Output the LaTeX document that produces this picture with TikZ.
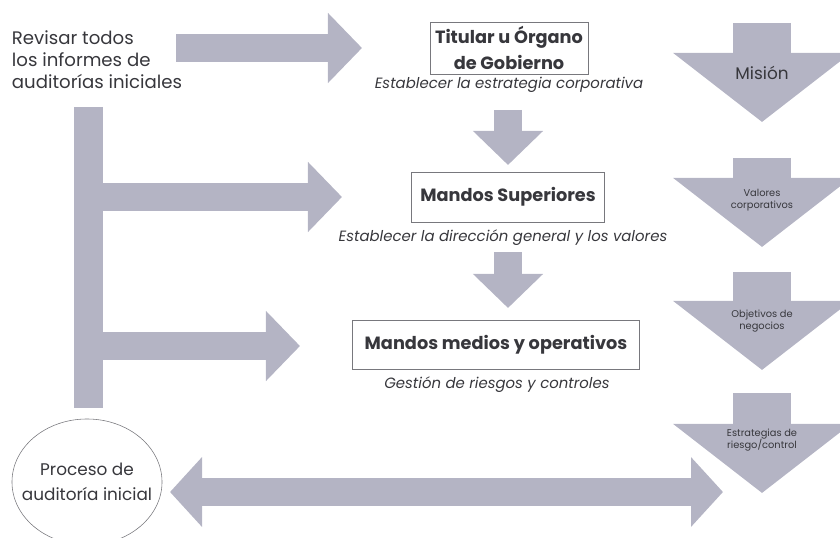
\documentclass[tikz,border=0pt]{standalone}
\usepackage{fontspec}
\setmainfont{Poppins}
\usetikzlibrary{positioning,arrows.meta,shapes.geometric}
\definecolor{arrowgray}{RGB}{180, 180, 196}
\definecolor{textgray}{RGB}{55, 55, 60}
\definecolor{boxgray}{RGB}{120, 120, 125}

\begin{document}
\begin{tikzpicture}[x=0.025cm, y=-0.025cm,
        every node/.style={text=textgray},
        level/.style={draw=boxgray, fill=white, align=center,
                    font=\fontsize{12.6}{18}\selectfont\bfseries},
        task/.style={font=\fontsize{10.6}{12}\selectfont\itshape},
        fatright/.style={arrowgray, line width=0.7125cm,
                    -{Triangle[length=0.85cm, width=1.7cm]}},
        fatboth/.style={arrowgray, line width=0.7cm,
                    {Triangle[length=0.8cm, width=1.7cm]}-{Triangle[length=0.8cm, width=1.7cm]}},
        fatdown/.style={arrowgray, line width=0.7cm,
                    -{Triangle[length=0.85cm, width=1.7cm]}},
        value/.style={arrowgray, line width=1.45cm,
                    -{Triangle[length=1.725cm, width=4.35cm]}},
        small/.style={align=center, font=\fontsize{7}{8.5}\selectfont}
    ]
    \useasboundingbox (0,0) rectangle (840,538);

    % Left column — review and audit process
    \node[align=left, anchor=west, font=\fontsize{12.9}{15.6}\selectfont] (revisar) at (7,60)
        {Revisar todos\\los informes de\\auditorías iniciales};
    \node[ellipse, draw=boxgray, minimum width=3.75cm, minimum height=3.15cm,
          inner sep=0pt] (proceso) at (87,482) {};
    \node[align=center, font=\fontsize{12}{17.7}\selectfont] (procesotxt) at (proceso.center)
        {Proceso de\\auditoría inicial};

    \coordinate (bartop) at (88.5,107);
    \coordinate (barbot) at (88.5,408);
    \coordinate (topstart) at (176,48);
    \coordinate (toptip) at (362,48);
    \coordinate (midtip) at (342,197);
    \coordinate (lowtip) at (300,346);
    \coordinate (retstart) at (170,492);
    \coordinate (rettip) at (723,492);

    % Middle column — levels
    \node[level, minimum width=3.95cm, minimum height=1.25cm] (titular) at (509,48)
        {Titular u Órgano\\de Gobierno};
    \node[task] (estrategia) at (509,85) {Establecer la estrategia corporativa};
    \node[level, minimum width=4.825cm, minimum height=1.25cm] (superiores) at (508,197)
        {Mandos Superiores};
    \node[task] (direccion) at (503,238) {Establecer la dirección general y los valores};
    \node[level, minimum width=7.175cm, minimum height=1.225cm] (medios) at (496,345)
        {Mandos medios y operativos};
    \node[task] (gestion) at (497,385) {Gestión de riesgos y controles};

    % Right column — values cascade
    \draw[value] (762,23)  -- (762,122);
    \draw[value] (762,158) -- (762,247);
    \draw[value] (762,272) -- (762,370);
    \draw[value] (762,393) -- (762,493);
    \node[font=\fontsize{12}{14}\selectfont] (mision) at (762,73) {Misión};
    \node[small] (valores) at (762,200) {Valores\\corporativos};
    \node[small] (objetivos) at (762,321) {Objetivos de\\negocios};
    \node[small] (riesgo) at (762,440) {Estrategias de\\riesgo/control};

    % Block arrows
    \draw[fatright] (topstart) -- (toptip);
    \draw[arrowgray, line width=0.725cm] (bartop) -- (barbot);
    \draw[fatright] (barbot |- midtip) -- (midtip);
    \draw[fatright] (barbot |- lowtip) -- (lowtip);
    \draw[fatdown] (508,110) -- (508,165);
    \draw[fatdown] (508,252) -- (508,308);
    \draw[fatboth] (retstart) -- (rettip);

\end{tikzpicture}
\end{document}
